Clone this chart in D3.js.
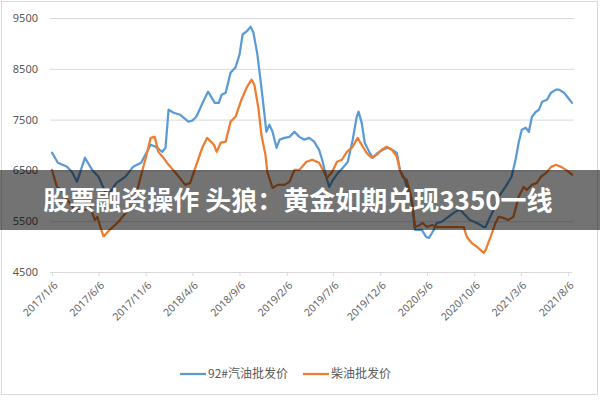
<!DOCTYPE html>
<html>
<head>
<meta charset="utf-8">
<script src="https://cdn.jsdelivr.net/npm/d3@7"></script>
<style>
  body { margin: 0; background: #fff; }
  svg { display: block; font-family: "Noto Sans CJK SC", "Noto Sans", sans-serif; }
</style>
</head>
<body>
<svg width="600" height="400"></svg>
<script>
// tick labels on the axes
var tickLabels = ["2017/1/6","2017/6/6","2017/11/6","2018/4/6","2018/9/6","2019/2/6",
                  "2019/7/6","2019/12/6","2020/5/6","2020/10/6","2021/3/6","2021/8/6"];
var yTicks = [4500, 5500, 6500, 7500, 8500, 9500];

// 92# gasoline wholesale price
var gasDates = ["2017-01-06","2017-01-25","2017-02-24","2017-03-12","2017-03-28","2017-04-23","2017-05-16","2017-06-06","2017-06-22","2017-07-05",
  "2017-08-03","2017-09-01","2017-09-26","2017-10-22","2017-11-22","2017-12-08","2017-12-30","2018-01-09","2018-01-19","2018-02-04",
  "2018-02-26","2018-03-24","2018-04-06","2018-04-19","2018-05-14","2018-05-27","2018-06-18","2018-07-01","2018-07-10","2018-07-23",
  "2018-08-08","2018-08-24","2018-09-06","2018-09-16","2018-09-29","2018-10-12","2018-10-21","2018-11-03","2018-11-16","2018-11-26",
  "2018-12-02","2018-12-12","2018-12-22","2019-01-04","2019-01-14","2019-01-30","2019-02-15","2019-03-03","2019-03-19","2019-04-04",
  "2019-04-20","2019-05-06","2019-05-22","2019-06-01","2019-06-14","2019-06-24","2019-07-06","2019-07-22","2019-08-07","2019-08-23",
  "2019-09-08","2019-09-21","2019-09-27","2019-10-07","2019-10-17","2019-11-02","2019-11-12","2019-11-28","2019-12-15","2019-12-31",
  "2020-01-13","2020-01-29","2020-02-08","2020-02-24","2020-03-05","2020-03-18","2020-03-28","2020-04-19","2020-05-03","2020-05-12",
  "2020-05-28","2020-06-06","2020-06-22","2020-07-14","2020-08-05","2020-08-21","2020-09-06","2020-09-22","2020-10-15","2020-11-06",
  "2020-11-12","2020-11-22","2020-12-08","2020-12-24","2021-01-15","2021-02-04","2021-02-17","2021-02-27","2021-03-09","2021-03-22",
  "2021-04-01","2021-04-11","2021-04-24","2021-05-04","2021-05-14","2021-05-30","2021-06-12","2021-06-28","2021-07-08","2021-07-24","2021-08-06","2021-08-19"];
var gasPrices = [6850,6650,6570,6470,6275,6750,6510,6375,6155,6000,
  6255,6375,6570,6650,7005,6965,6865,6945,7695,7635,
  7595,7460,7480,7555,7890,8050,7830,7830,7990,8030,
  8425,8525,8780,9175,9235,9330,9215,8780,8130,7595,
  7260,7400,7260,6945,7105,7140,7160,7260,7160,7105,
  7140,7065,6905,6710,6375,6175,6315,6450,6550,6670,
  7105,7555,7655,7440,7045,6845,6750,6845,6905,6945,
  6905,6845,6510,6315,6115,5860,5330,5330,5190,5170,
  5330,5465,5485,5585,5685,5725,5625,5525,5465,5385,
  5385,5525,5725,5980,6175,6375,6710,7045,7300,7340,
  7260,7555,7655,7695,7850,7890,8030,8090,8090,8030,7930,7830];

// diesel wholesale price
var dieselDates = ["2017-01-06","2017-01-22","2017-02-07","2017-02-17","2017-03-21","2017-04-23","2017-05-09","2017-05-25","2017-06-02","2017-06-12",
  "2017-06-22","2017-07-12","2017-08-09","2017-09-02","2017-09-26","2017-10-11","2017-11-06","2017-11-22","2017-12-05","2017-12-17",
  "2018-01-02","2018-01-19","2018-02-16","2018-03-14","2018-03-30","2018-04-19","2018-05-08","2018-05-24","2018-06-15","2018-06-24",
  "2018-07-07","2018-07-23","2018-08-08","2018-08-24","2018-09-12","2018-09-29","2018-10-15","2018-10-24","2018-11-06","2018-11-16",
  "2018-11-29","2018-12-05","2018-12-22","2019-01-07","2019-01-30","2019-02-15","2019-03-03","2019-03-19","2019-04-11","2019-04-30",
  "2019-05-22","2019-06-07","2019-06-17","2019-07-03","2019-07-19","2019-08-04","2019-08-20","2019-09-08","2019-09-24","2019-10-07",
  "2019-10-23","2019-11-08","2019-11-25","2019-12-11","2019-12-27","2020-01-13","2020-01-29","2020-02-08","2020-02-17","2020-03-01",
  "2020-03-18","2020-03-28","2020-04-12","2020-04-22","2020-05-06","2020-05-22","2020-06-06","2020-07-21","2020-09-02","2020-09-12",
  "2020-09-28","2020-10-15","2020-11-06","2020-11-12","2020-11-28","2020-12-14","2020-12-24","2021-01-08","2021-01-24","2021-02-10",
  "2021-02-27","2021-03-15","2021-03-25","2021-04-11","2021-04-27","2021-05-10","2021-05-27","2021-06-12","2021-06-28","2021-07-14","2021-07-31","2021-08-19"];
var dieselPrices = [6510,6175,6115,5980,5725,5725,5780,5525,5585,5385,
  5200,5330,5485,5665,5820,6155,6750,7140,7160,6865,
  6750,6610,6415,6215,6255,6610,6945,7140,7005,6865,
  7045,7065,7460,7555,7890,8130,8285,8190,7735,7200,
  6810,6470,6155,6215,6215,6275,6510,6510,6670,6710,
  6650,6470,6355,6470,6670,6710,6865,6965,7140,7005,
  6845,6750,6810,6905,6965,6905,6770,6510,6375,6315,
  5920,5385,5425,5465,5385,5425,5385,5385,5385,5190,
  5070,4995,4875,4935,5190,5465,5585,5565,5525,5585,
  5980,6175,6115,6215,6255,6375,6450,6570,6610,6570,6510,6415];

var seriesNames = ["92#汽油批发价", "柴油批发价"];
var seriesColors = ["#5b9bd5", "#ed7d31"];
var title = "股票融资操作 头狼：黄金如期兑现3350一线";

var svg = d3.select("svg");
var parseDate = d3.timeParse("%Y-%m-%d");
var parseLabel = d3.timeParse("%Y/%m/%d");

// chart frame
svg.append("rect")
    .attr("x", 1.5).attr("y", 1.5).attr("width", 596).attr("height", 393)
    .attr("fill", "#fff").attr("stroke", "#d9d9d9");

var x = d3.scaleTime()
    .domain([parseLabel("2017/1/6"), parseLabel("2021/8/6")])
    .range([52, 568]);
var y = d3.scaleLinear()
    .domain([4500, 9500])
    .range([272, 18]);

// horizontal gridlines
svg.append("g")
    .attr("transform", "translate(50,0)")
    .call(d3.axisLeft(y).tickValues(yTicks.slice(1)).tickSize(-524).tickFormat(""))
    .call(function(g) { g.select(".domain").remove(); })
    .selectAll("line").attr("stroke", "#d9d9d9");

// y labels
svg.append("g")
    .attr("transform", "translate(41,0)")
    .call(d3.axisLeft(y).tickValues(yTicks).tickSize(0).tickFormat(d3.format("d")))
    .call(function(g) { g.select(".domain").remove(); })
    .selectAll("text")
      .attr("fill", "#595959")
      .attr("font-size", 11)
      .attr("font-family", "'Noto Sans', sans-serif");

// x axis
var xAxis = svg.append("g")
    .attr("transform", "translate(0,272)")
    .call(d3.axisBottom(x)
      .tickValues(tickLabels.map(parseLabel))
      .tickSize(4)
      .tickSizeOuter(0)
      .tickFormat(function(d, i) { return tickLabels[i]; }));
xAxis.select(".domain").attr("stroke", "#d9d9d9").attr("d", "M50,0.5H572");
xAxis.selectAll("line").attr("stroke", "#d9d9d9");
xAxis.selectAll("text")
    .attr("fill", "#666")
    .attr("font-size", 10.5)
    .attr("font-family", "'Noto Sans', sans-serif")
    .attr("text-anchor", "end")
    .attr("dy", null)
    .attr("y", null)
    .attr("transform", "translate(6,14) rotate(-45)");

var line = d3.line()
    .x(function(d) { return x(d.date); })
    .y(function(d) { return y(d.value); });

function series(dates, values) {
  return dates.map(function(d, i) { return {date: parseDate(d), value: values[i]}; });
}
var allSeries = [series(gasDates, gasPrices), series(dieselDates, dieselPrices)];

allSeries.forEach(function(s, i) {
  svg.append("path")
      .datum(s)
      .attr("fill", "none")
      .attr("stroke", seriesColors[i])
      .attr("stroke-width", 2.25)
      .attr("stroke-linejoin", "round")
      .attr("stroke-linecap", "round")
      .attr("d", line);
});

// legend
var legend = svg.append("g").attr("transform", "translate(180,374)");
var legendX = [0, 123];
seriesNames.forEach(function(name, i) {
  var item = legend.append("g").attr("transform", "translate(" + legendX[i] + ",0)");
  item.append("line")
      .attr("x1", 0).attr("x2", 26)
      .attr("stroke", seriesColors[i]).attr("stroke-width", 2.25);
  item.append("text")
      .attr("x", 28).attr("dy", "0.35em")
      .attr("fill", "#595959")
      .attr("font-size", 12)
      .text(name);
});

// dark title band over the chart
svg.append("rect")
    .attr("x", 0).attr("y", 170).attr("width", 600).attr("height", 60)
    .attr("fill", "#000").attr("fill-opacity", 0.55);
svg.append("text")
    .attr("x", 298).attr("y", 210)
    .attr("text-anchor", "middle")
    .attr("fill", "#fff")
    .attr("font-size", 26)
    .attr("font-weight", "bold")
    .attr("font-family", "'Noto Sans CJK SC', sans-serif")
    .text(title);
</script>
</body>
</html>
